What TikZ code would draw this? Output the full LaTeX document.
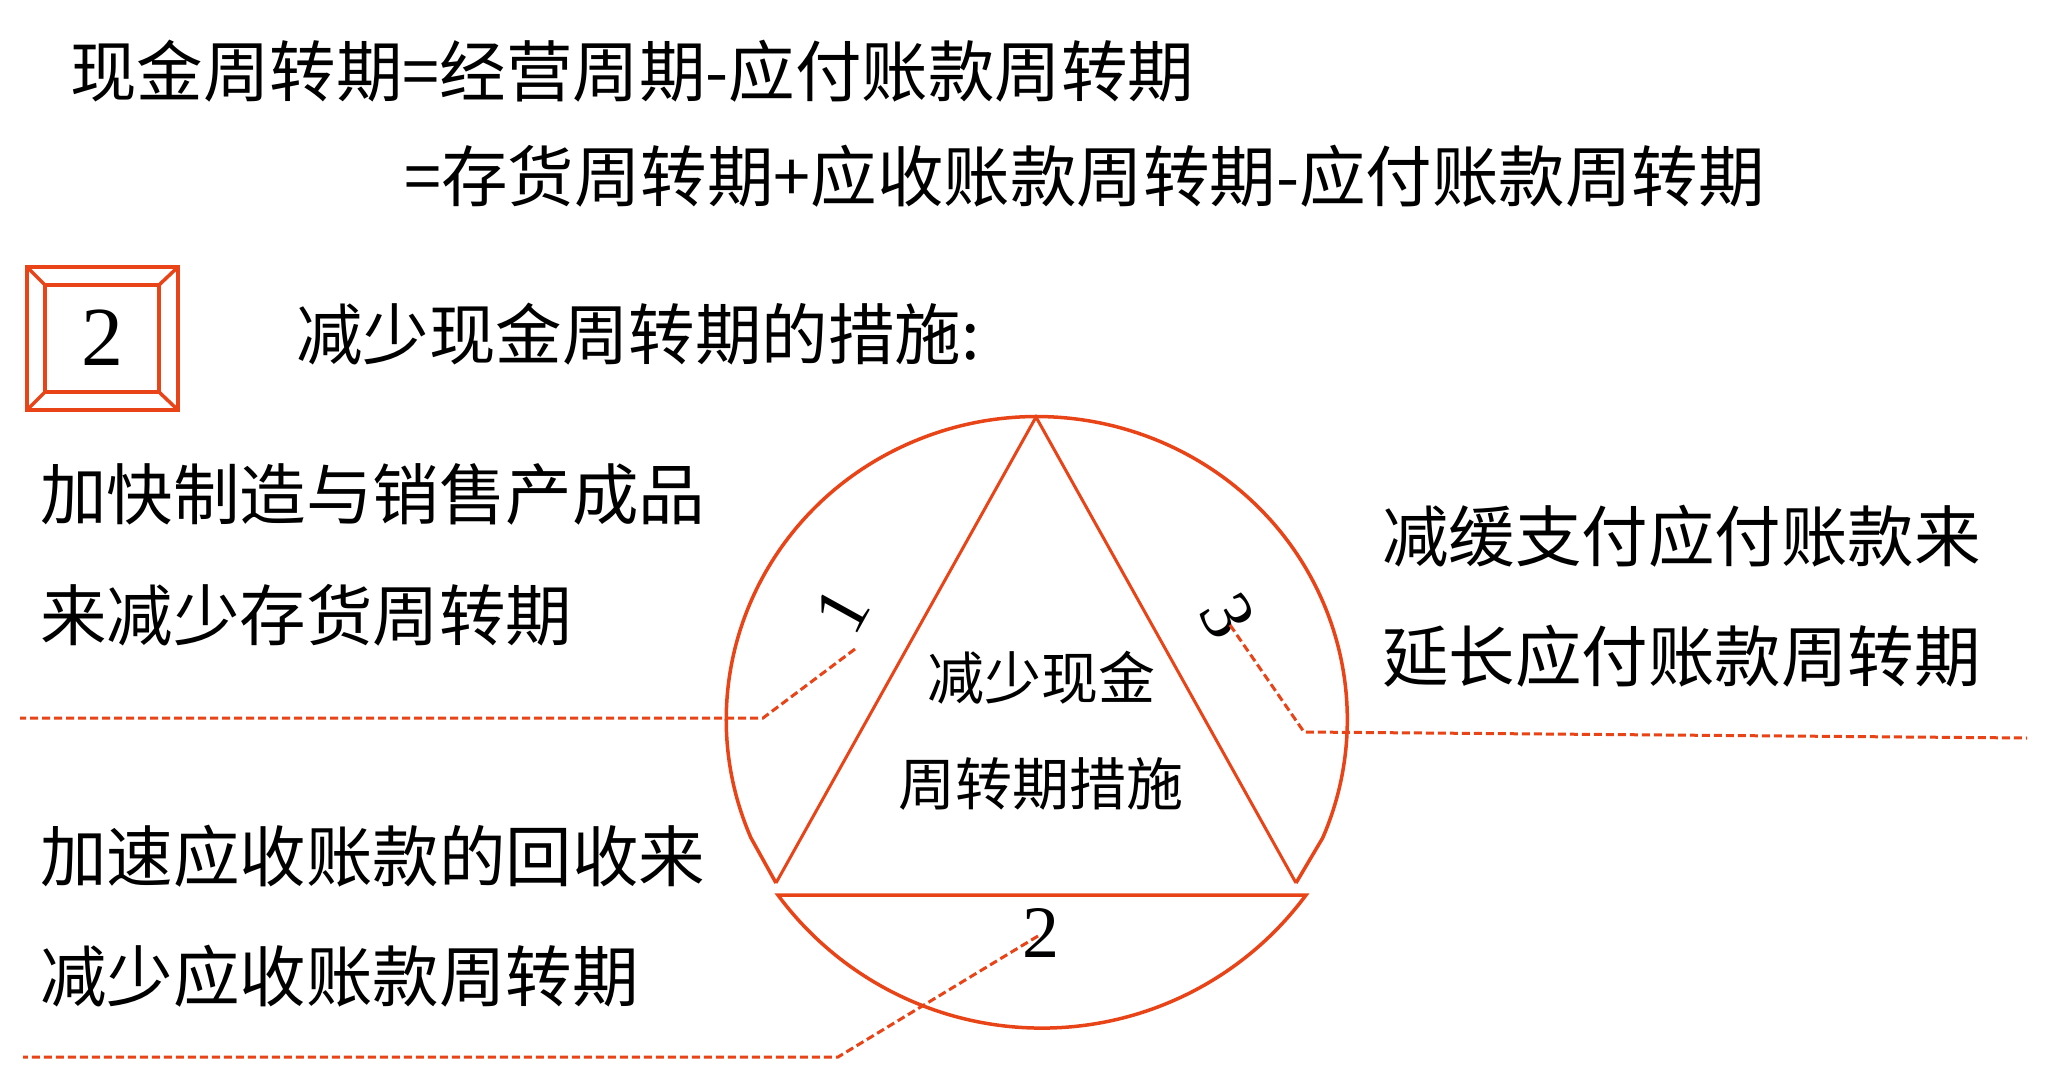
\documentclass[tikz,border=0pt]{standalone}
\usepackage{fontspec}
\setmainfont{Liberation Serif}
\newfontfamily\cjk{Noto Sans CJK SC}
\definecolor{tred}{RGB}{232,68,24}
\begin{document}
\begin{tikzpicture}[x=1pt,y=-1pt,
  txt/.style={font=\cjk\fontsize{66.5}{70}\selectfont, inner sep=0pt, anchor=west},
  midtxt/.style={font=\cjk\fontsize{57}{60}\selectfont, inner sep=0pt},
  num/.style={font=\fontsize{74}{80}\selectfont, inner sep=0pt},
  lead/.style={draw=tred, line width=3pt, dash pattern=on 8pt off 4pt},
  outline/.style={draw=tred, line width=3.5pt},
  tri/.style={draw=tred, line width=3pt, line join=miter}]
\useasboundingbox (0,0) rectangle (2054,1092);
\fill[white] (0,0) rectangle (2054,1092);

% formulas
\node[txt] (f1) at (70,71) {现金周转期=经营周期-应付账款周转期};
\node[txt] (f2) at (404,176) {=存货周转期+应收账款周转期-应付账款周转期};

% numbered box
\draw[outline, line width=4pt] (27,267) rectangle (178,410);
\draw[outline] (45,285) rectangle (159,392);
\draw[outline] (27,267) -- (45,285) (178,267) -- (159,285)
               (27,410) -- (45,392) (178,410) -- (159,392);
\node[font=\fontsize{84}{90}\selectfont, inner sep=0pt] (b2) at (102,338) {2};
\node[txt] (head) at (296,334) {减少现金周转期的措施:};

% side texts
\node[txt] (t1a) at (40,494) {加快制造与销售产成品};
\node[txt] (t1b) at (40,615) {来减少存货周转期};
\node[txt] (t2a) at (40,856) {加速应收账款的回收来};
\node[txt] (t2b) at (40,976) {减少应收账款周转期};
\node[txt] (t3a) at (1382,536) {减缓支付应付账款来};
\node[txt] (t3b) at (1382,656) {延长应付账款周转期};

% circle with triangle
\coordinate (A) at (1036,417);
\coordinate (B) at (776,883);
\coordinate (C) at (1296,883);
\draw[tred, line width=3.5pt, line join=miter]
  (B) -- (751,838) arc[start angle=157, end angle=383, x radius=310.5, y radius=303]
  -- (C);
\draw[tri] (B) -- (A) -- (C);
\draw[tred, line width=3.5pt, line join=miter]
  (778,895) -- (1306,895) arc[start angle=36.5, end angle=143.5, radius=328.5] -- cycle;

\node[midtxt] (m1) at (1041,678) {减少现金};
\node[midtxt] (m2) at (1041,784) {周转期措施};

% numbers
\node[num, rotate=61] (n1) at (842,610) {1};
\node[num, rotate=-61] (n3) at (1228,616) {3};
\node[num] (n2) at (1041,933) {2};

% leader lines
\coordinate (l1a) at (855,649);
\coordinate (l1b) at (763,718);
\coordinate (l1c) at (20,718);
\draw[lead] (l1a) -- (l1b) -- (l1c);
\coordinate (l3a) at (1230,625);
\coordinate (l3b) at (1304,732);
\coordinate (l3c) at (2027,738);
\draw[lead] (l3a) -- (l3b) -- (l3c);
\coordinate (l2a) at (1038,936);
\coordinate (l2b) at (838,1057);
\coordinate (l2c) at (23,1057);
\draw[lead] (l2a) -- (l2b) -- (l2c);
\end{tikzpicture}
\end{document}
